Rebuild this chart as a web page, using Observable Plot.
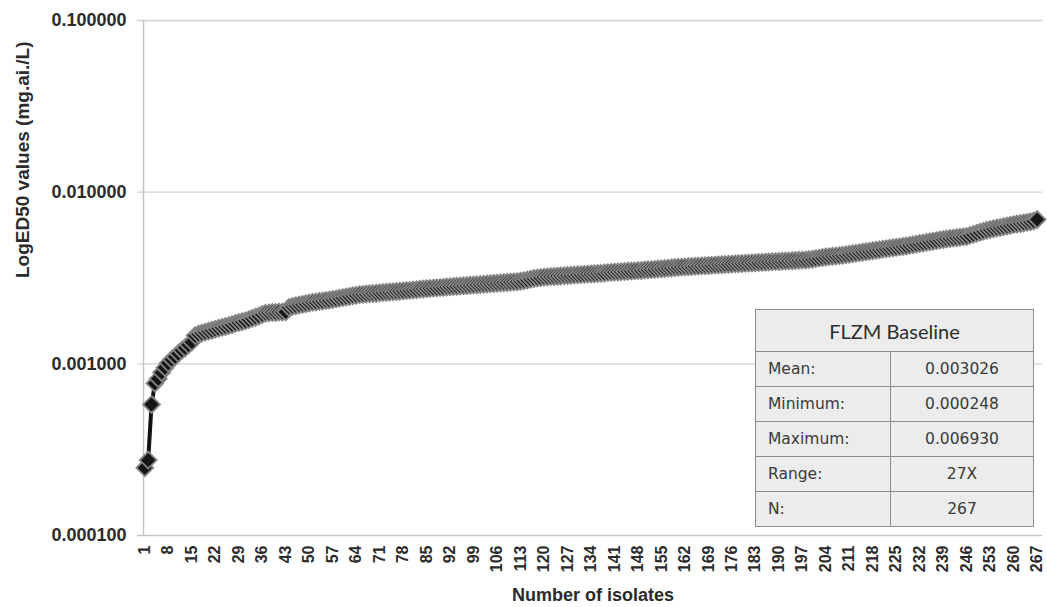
<!DOCTYPE html>
<html>
<head>
<meta charset="utf-8">
<script src="https://cdn.jsdelivr.net/npm/d3@7"></script>
<script src="https://cdn.jsdelivr.net/npm/@observablehq/plot@0.6"></script>
<style>
  html, body { margin: 0; padding: 0; background: #fff; }
  #wrap { position: relative; width: 1047px; height: 607px; }
  #stats { position: absolute; left: 755px; top: 309px; border-collapse: collapse; background: #ececec; }
  #stats td { border: 1px solid #8c8c8c; padding: 0; color: #3a3a3a; font-family: "DejaVu Sans", Verdana, sans-serif; font-size: 15.5px; height: 34px; }
  #stats td.lab { width: 122px; padding-left: 12px; text-align: left; }
  #stats td.val { width: 142px; text-align: center; }
  #stats td.title { height: 41px; text-align: center; font-family: Lato, "Open Sans", sans-serif; font-size: 20px; color: #2e2e2e; }
</style>
</head>
<body>
<div id="wrap"></div>
<script>
// ---- data ----
const isolates = d3.range(1, 268); // isolate rank 1..267
const ed50 = [
  0.000248, 0.000275, 0.000580, 0.000770, 0.000820, 0.000890, 0.000950, 0.001010, 0.001060, 0.001100,
  0.001150, 0.001200, 0.001240, 0.001290, 0.001340, 0.001460, 0.001490, 0.001510, 0.001530, 0.001550,
  0.001570, 0.001590, 0.001610, 0.001630, 0.001650, 0.001670, 0.001690, 0.001720, 0.001740, 0.001760,
  0.001780, 0.001810, 0.001840, 0.001870, 0.001900, 0.001940, 0.001970, 0.001980, 0.001990, 0.001990,
  0.002000, 0.002000, 0.002010, 0.002130, 0.002160, 0.002180, 0.002200, 0.002220, 0.002240, 0.002260,
  0.002280, 0.002290, 0.002310, 0.002320, 0.002340, 0.002350, 0.002370, 0.002390, 0.002410, 0.002430,
  0.002450, 0.002470, 0.002490, 0.002510, 0.002530, 0.002540, 0.002550, 0.002560, 0.002570, 0.002580,
  0.002590, 0.002600, 0.002610, 0.002620, 0.002630, 0.002640, 0.002650, 0.002660, 0.002670, 0.002680,
  0.002690, 0.002700, 0.002720, 0.002730, 0.002740, 0.002750, 0.002760, 0.002770, 0.002780, 0.002790,
  0.002800, 0.002810, 0.002820, 0.002830, 0.002840, 0.002850, 0.002860, 0.002870, 0.002880, 0.002890,
  0.002900, 0.002910, 0.002920, 0.002930, 0.002940, 0.002950, 0.002960, 0.002970, 0.002980, 0.002990,
  0.003000, 0.003010, 0.003030, 0.003050, 0.003080, 0.003110, 0.003140, 0.003160, 0.003180, 0.003200,
  0.003210, 0.003220, 0.003230, 0.003240, 0.003250, 0.003260, 0.003270, 0.003280, 0.003290, 0.003300,
  0.003310, 0.003320, 0.003330, 0.003340, 0.003350, 0.003360, 0.003370, 0.003380, 0.003400, 0.003410,
  0.003420, 0.003430, 0.003440, 0.003450, 0.003460, 0.003470, 0.003480, 0.003490, 0.003500, 0.003520,
  0.003530, 0.003540, 0.003550, 0.003570, 0.003580, 0.003590, 0.003610, 0.003620, 0.003640, 0.003650,
  0.003660, 0.003670, 0.003680, 0.003690, 0.003700, 0.003710, 0.003720, 0.003730, 0.003740, 0.003750,
  0.003760, 0.003770, 0.003780, 0.003790, 0.003800, 0.003810, 0.003820, 0.003830, 0.003840, 0.003850,
  0.003860, 0.003870, 0.003880, 0.003890, 0.003900, 0.003910, 0.003920, 0.003930, 0.003940, 0.003950,
  0.003960, 0.003970, 0.003980, 0.003990, 0.004000, 0.004010, 0.004020, 0.004030, 0.004050, 0.004070,
  0.004100, 0.004130, 0.004160, 0.004190, 0.004210, 0.004230, 0.004250, 0.004270, 0.004290, 0.004320,
  0.004350, 0.004380, 0.004410, 0.004440, 0.004470, 0.004500, 0.004530, 0.004560, 0.004590, 0.004620,
  0.004650, 0.004680, 0.004710, 0.004740, 0.004770, 0.004800, 0.004830, 0.004860, 0.004900, 0.004940,
  0.004980, 0.005020, 0.005060, 0.005100, 0.005140, 0.005180, 0.005220, 0.005260, 0.005300, 0.005340,
  0.005370, 0.005400, 0.005430, 0.005460, 0.005490, 0.005520, 0.005600, 0.005680, 0.005760, 0.005840,
  0.005920, 0.006000, 0.006060, 0.006120, 0.006180, 0.006230, 0.006290, 0.006350, 0.006410, 0.006470,
  0.006520, 0.006570, 0.006620, 0.006670, 0.006720, 0.006800, 0.006930
];
const xTicks = [1, 8, 15, 22, 29, 36, 43, 50, 57, 64, 71, 78, 85, 92, 99, 106, 113, 120, 127, 134,
  141, 148, 155, 162, 169, 176, 183, 190, 197, 204, 211, 218, 225, 232, 239, 246, 253, 260, 267];
const yTicks = [0.0001, 0.001, 0.01, 0.1];
const yTickLabels = ["0.000100", "0.001000", "0.010000", "0.100000"];
const xTitle = "Number of isolates";
const yTitle = "LogED50 values (mg.ai./L)";
const tableTitle = "FLZM Baseline";
const statLabels = ["Mean:", "Minimum:", "Maximum:", "Range:", "N:"];
const statValues = ["0.003026", "0.000248", "0.006930", "27X", "267"];

const data = isolates.map((n, i) => ({n, v: ed50[i]}));
const xDomain = [0.6, 268.6];

const chart = Plot.plot({
  width: 1047,
  height: 607,
  marginLeft: 143,
  marginRight: 5,
  marginTop: 20,
  marginBottom: 72,
  style: {fontFamily: "'Liberation Sans', Arial, sans-serif", fontWeight: "bold", color: "#2b2b2b", background: "transparent"},
  x: {type: "linear", domain: xDomain},
  y: {type: "log", domain: [0.0001, 0.1]},
  marks: [
    Plot.ruleY(yTicks.slice(1), {stroke: "#d2d2d2", strokeWidth: 1.3, insetLeft: -6}),
    Plot.ruleY([yTicks[0]], {stroke: "#c4c4c4", strokeWidth: 1.5, insetLeft: -6}),
    Plot.ruleX([xDomain[0]], {stroke: "#c4c4c4", strokeWidth: 1.5}),
    Plot.axisY({ticks: yTicks, tickFormat: d => yTickLabels[yTicks.indexOf(d)], tickSize: 0, tickPadding: 17, fontSize: 18, label: null}),
    Plot.axisX({ticks: xTicks, tickFormat: d => String(d), tickSize: 0, tickRotate: -90, tickPadding: 10, fontSize: 16, label: null}),
    Plot.line(data, {x: "n", y: "v", stroke: "#111", strokeWidth: 4}),
    Plot.dot(data, {x: "n", y: "v", symbol: "diamond2", r: 7.6, fill: "#161616", stroke: "#858585", strokeWidth: 1.8}),
    Plot.text([yTitle], {frameAnchor: "left", dx: -121, rotate: -90, fontSize: 19, fill: "#2b2b2b"}),
    Plot.text([xTitle], {frameAnchor: "bottom", lineAnchor: "middle", dy: 60, fontSize: 18, fill: "#2b2b2b"})
  ]
});

const wrap = document.getElementById("wrap");
wrap.appendChild(chart);

// statistics table overlay
const table = document.createElement("table");
table.id = "stats";
const trh = table.insertRow();
const th = trh.insertCell();
th.colSpan = 2;
th.className = "title";
th.textContent = tableTitle;
statLabels.forEach((lab, i) => {
  const tr = table.insertRow();
  const a = tr.insertCell(); a.className = "lab"; a.textContent = lab;
  const b = tr.insertCell(); b.className = "val"; b.textContent = statValues[i];
});
wrap.appendChild(table);
</script>
</body>
</html>
